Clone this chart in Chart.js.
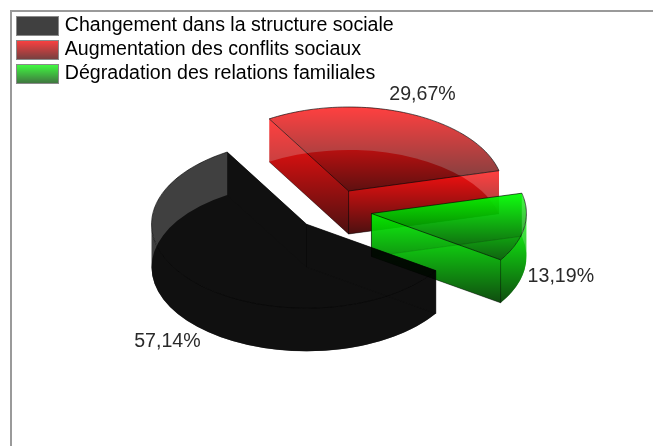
<!DOCTYPE html>
<html><head><meta charset="utf-8">
<style>html,body{margin:0;padding:0;background:#fff}canvas{display:block;filter:blur(0.45px)}</style>
<script src="https://cdn.jsdelivr.net/npm/chart.js@4"></script>
</head><body>
<canvas id="c" width="653" height="446"></canvas>
<script>
const categories = ['Changement dans la structure sociale','Augmentation des conflits sociaux','Dégradation des relations familiales'];
const shares = [57.14, 29.67, 13.19];
const sliceColors = [[0,0,0],[255,0,0],[0,255,0]];
const firstSliceAngle = 123.5;
const view = {cx:334, cy:210, a:155, b:84, depth:43, explode:0.245, labelRatio:1.24, labelDrop:2.5, alpha:0.75, darken:0.25};

function grad(ctx, y0, y1, col){
  const g = ctx.createLinearGradient(0,y0,0,y1);
  const c = (f)=>`rgba(${col.map(v=>Math.round(v*f)).join(',')},${view.alpha})`;
  g.addColorStop(0,c(1)); g.addColorStop(1,c(view.darken));
  return g;
}
function fillShape(ctx, bboxPts, col, pathFn){
  const ys = bboxPts.map(p=>p[1]);
  ctx.beginPath(); pathFn(); ctx.closePath();
  ctx.fillStyle = grad(ctx, Math.min(...ys), Math.max(...ys), col);
  ctx.fill();
}
function line(ctx, pts, alpha){
  ctx.beginPath(); pts.forEach((p,i)=> i?ctx.lineTo(p[0],p[1]):ctx.moveTo(p[0],p[1]));
  ctx.strokeStyle=`rgba(0,0,0,${alpha})`; ctx.lineWidth=0.9; ctx.stroke();
}
function arcPts(ax,ay,s,e){
  const pts=[]; const n=60;
  for(let i=0;i<=n;i++){const t=s+(e-s)*i/n; pts.push([ax+view.a*Math.cos(t), ay+view.b*Math.sin(t)]);}
  return pts;
}
const pie3d = {
  id:'pie3d',
  beforeDraw(chart){
    const ctx=chart.ctx;
    ctx.save();
    ctx.fillStyle='#9a9a9a';
    ctx.fillRect(10,10,chart.width-10,2);
    ctx.fillRect(10,10,2,chart.height-10);
    ctx.restore();
  },
  beforeDatasetDraw(chart){
    const ctx=chart.ctx, meta=chart.getDatasetMeta(0);
    const items = meta.data.map((el,i)=>{
      const p=el.getProps(['startAngle','endAngle'],true);
      const mid=(p.startAngle+p.endAngle)/2;
      return {i,s:p.startAngle,e:p.endAngle,mid};
    }).sort((u,v)=>Math.sin(u.mid)-Math.sin(v.mid));
    ctx.save();
    for(const it of items){
      const col=sliceColors[it.i], {s,e,mid}=it, {a,b,depth}=view;
      const ax=view.cx+view.explode*a*Math.cos(mid), ay=view.cy+view.explode*b*Math.sin(mid);
      const ring=arcPts(ax,ay,s,e);
      const sector=(dy)=>()=>{ctx.moveTo(ax,ay+dy);ctx.ellipse(ax,ay+dy,a,b,0,s,e);};
      // bottom face
      fillShape(ctx,[[ax,ay+depth],...ring.map(q=>[q[0],q[1]+depth])],col,sector(depth));
      // radial faces
      for(const t of [s,e]){
        const ox=ax+a*Math.cos(t), oy=ay+b*Math.sin(t);
        fillShape(ctx,[[ax,ay],[ox,oy],[ox,oy+depth],[ax,ay+depth]],col,()=>{
          ctx.moveTo(ax,ay);ctx.lineTo(ox,oy);ctx.lineTo(ox,oy+depth);ctx.lineTo(ax,ay+depth);
        });
        line(ctx,[[ax,ay+depth],[ox,oy+depth]],0.5);
        if(Math.sin(t)>0) line(ctx,[[ox,oy],[ox,oy+depth]],0.7);
      }
      line(ctx,[[ax,ay],[ax,ay+depth]],0.7);
      // outer wall: only the part facing the viewer
      for(let k=-1;k<=1;k++){
        const lo=Math.max(s,2*Math.PI*k), hi=Math.min(e,2*Math.PI*k+Math.PI);
        if(hi<=lo) continue;
        const pts=arcPts(ax,ay,lo,hi);
        fillShape(ctx,[...pts,...pts.map(q=>[q[0],q[1]+depth])],col,()=>{
          ctx.ellipse(ax,ay,a,b,0,lo,hi);
          ctx.ellipse(ax,ay+depth,a,b,0,hi,lo,true);
        });
      }
      // top face
      fillShape(ctx,[[ax,ay],...ring],col,sector(0));
      line(ctx,[[ax,ay],...ring,[ax,ay]],0.7);
    }
    // value labels
    ctx.fillStyle='#2a2a2a'; ctx.font='19.6px "Liberation Sans"'; ctx.textAlign='center'; ctx.textBaseline='middle';
    for(const it of items){
      const {mid}=it, c=Math.cos(mid), sn=Math.sin(mid);
      const ax=view.cx+view.explode*view.a*c, ay=view.cy+view.explode*view.b*sn;
      const lx=ax+view.labelRatio*view.a*c, ly=ay+view.labelRatio*view.b*sn+(sn>0?view.depth+view.labelDrop:0);
      ctx.fillText(shares[it.i].toFixed(2).replace('.',',')+'%',lx,ly);
    }
    ctx.restore();
    return false;
  },
  afterDraw(chart){
    const ctx=chart.ctx;
    chart.legend.legendHitBoxes.forEach((h,i)=>{
      const y=h.top, H=20;
      ctx.save();
      ctx.fillStyle=grad(ctx,y,y+H,sliceColors[i]);
      ctx.fillRect(16,y,43,H);
      ctx.strokeStyle='#8a8a8a'; ctx.lineWidth=1; ctx.strokeRect(16.5,y+.5,42,H-1);
      ctx.restore();
    });
  }
};
new Chart(document.getElementById('c'),{
  type:'pie',
  data:{labels:categories,datasets:[{data:shares,backgroundColor:sliceColors.map(c=>`rgb(${c.join(',')})`),borderWidth:0}]},
  options:{
    responsive:false,animation:false,rotation:firstSliceAngle,
    layout:{padding:{left:12,top:12}},
    plugins:{
      tooltip:{enabled:false},
      legend:{position:'left',align:'start',maxWidth:520,labels:{
        boxWidth:39,boxHeight:20,padding:4,color:'#2a2a2a',
        font:{family:'"Liberation Sans"',size:19.6,lineHeight:1},
        generateLabels:(chart)=>categories.map((t,i)=>({text:t,fillStyle:'rgba(0,0,0,0)',strokeStyle:'rgba(0,0,0,0)',lineWidth:0,index:i}))
      }}
    }
  },
  plugins:[pie3d]
});
</script>
</body></html>
